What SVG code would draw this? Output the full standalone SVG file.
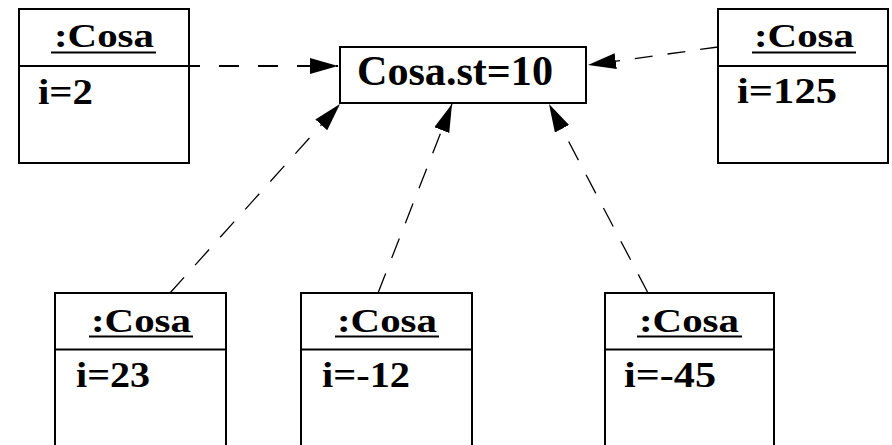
<svg xmlns="http://www.w3.org/2000/svg" width="892" height="445" viewBox="0 0 892 445">
<style>
.box{fill:#fff;stroke:#000;stroke-width:2}
.div{stroke:#000;stroke-width:2}
.ul{stroke:#000;stroke-width:2}
text{font-family:'Liberation Serif','DejaVu Serif',serif;font-weight:700;fill:#000}
.name{font-size:34px}
.attr{font-size:36px}
.main{font-size:42px}
.dep{fill:none;stroke:#000;marker-end:url(#arrow)}
</style>
<defs>
<marker id="arrow" markerUnits="userSpaceOnUse" markerWidth="30" markerHeight="18" refX="28" refY="8" orient="auto">
<path d="M0,0 L28,8 L0,16 Z" fill="#000" stroke="none"/>
</marker>
</defs>
<rect width="892" height="445" fill="#fff"/>
<g id="connectors">
<line class="dep" x1="189" y1="66" x2="338" y2="66" stroke-width="2" stroke-dasharray="20 19" stroke-dashoffset="9"/>
<line class="dep" x1="718" y1="47" x2="588" y2="65" stroke-width="1.3" stroke-dasharray="18 15"/>
<line class="dep" x1="170" y1="293" x2="340" y2="104" stroke-width="1.3" stroke-dasharray="21 16.5"/>
<line class="dep" x1="378" y1="293" x2="452" y2="104" stroke-width="1.3" stroke-dasharray="21 16.5"/>
<line class="dep" x1="648" y1="293" x2="549" y2="104" stroke-width="1.3" stroke-dasharray="21 16.5"/>
</g>
<g id="static">
<rect class="box" x="340" y="47" width="246" height="56"/>
<text class="main" x="455" y="84.5" text-anchor="middle" textLength="196" lengthAdjust="spacingAndGlyphs">Cosa.st=10</text>
</g>
<g id="obj1">
<rect class="box" x="19" y="9" width="170" height="154"/>
<line class="div" x1="19" y1="66" x2="189" y2="66"/>
<text class="name" x="104" y="47" text-anchor="middle" textLength="100" lengthAdjust="spacingAndGlyphs">:Cosa</text>
<line class="ul" x1="51" y1="52.5" x2="156" y2="52.5"/>
<text class="attr" x="38" y="104" textLength="55" lengthAdjust="spacingAndGlyphs">i=2</text>
</g>
<g id="obj2">
<rect class="box" x="718" y="9" width="170" height="154"/>
<line class="div" x1="718" y1="66" x2="888" y2="66"/>
<text class="name" x="804" y="47" text-anchor="middle" textLength="100" lengthAdjust="spacingAndGlyphs">:Cosa</text>
<line class="ul" x1="752" y1="52.5" x2="856" y2="52.5"/>
<text class="attr" x="737" y="103" textLength="100" lengthAdjust="spacingAndGlyphs">i=125</text>
</g>
<g id="obj3">
<rect class="box" x="55" y="293" width="171" height="160"/>
<line class="div" x1="55" y1="349.5" x2="226" y2="349.5"/>
<text class="name" x="141" y="331.5" text-anchor="middle" textLength="100" lengthAdjust="spacingAndGlyphs">:Cosa</text>
<line class="ul" x1="89" y1="336.5" x2="193" y2="336.5"/>
<text class="attr" x="76" y="387" textLength="74" lengthAdjust="spacingAndGlyphs">i=23</text>
</g>
<g id="obj4">
<rect class="box" x="301" y="293" width="171" height="160"/>
<line class="div" x1="301" y1="349.5" x2="472" y2="349.5"/>
<text class="name" x="387" y="331.5" text-anchor="middle" textLength="100" lengthAdjust="spacingAndGlyphs">:Cosa</text>
<line class="ul" x1="335" y1="336.5" x2="439" y2="336.5"/>
<text class="attr" x="322" y="387" textLength="88" lengthAdjust="spacingAndGlyphs">i=-12</text>
</g>
<g id="obj5">
<rect class="box" x="605" y="293" width="169" height="160"/>
<line class="div" x1="605" y1="349.5" x2="774" y2="349.5"/>
<text class="name" x="689" y="331.5" text-anchor="middle" textLength="100" lengthAdjust="spacingAndGlyphs">:Cosa</text>
<line class="ul" x1="637" y1="336.5" x2="742" y2="336.5"/>
<text class="attr" x="624" y="387" textLength="92" lengthAdjust="spacingAndGlyphs">i=-45</text>
</g>
</svg>
